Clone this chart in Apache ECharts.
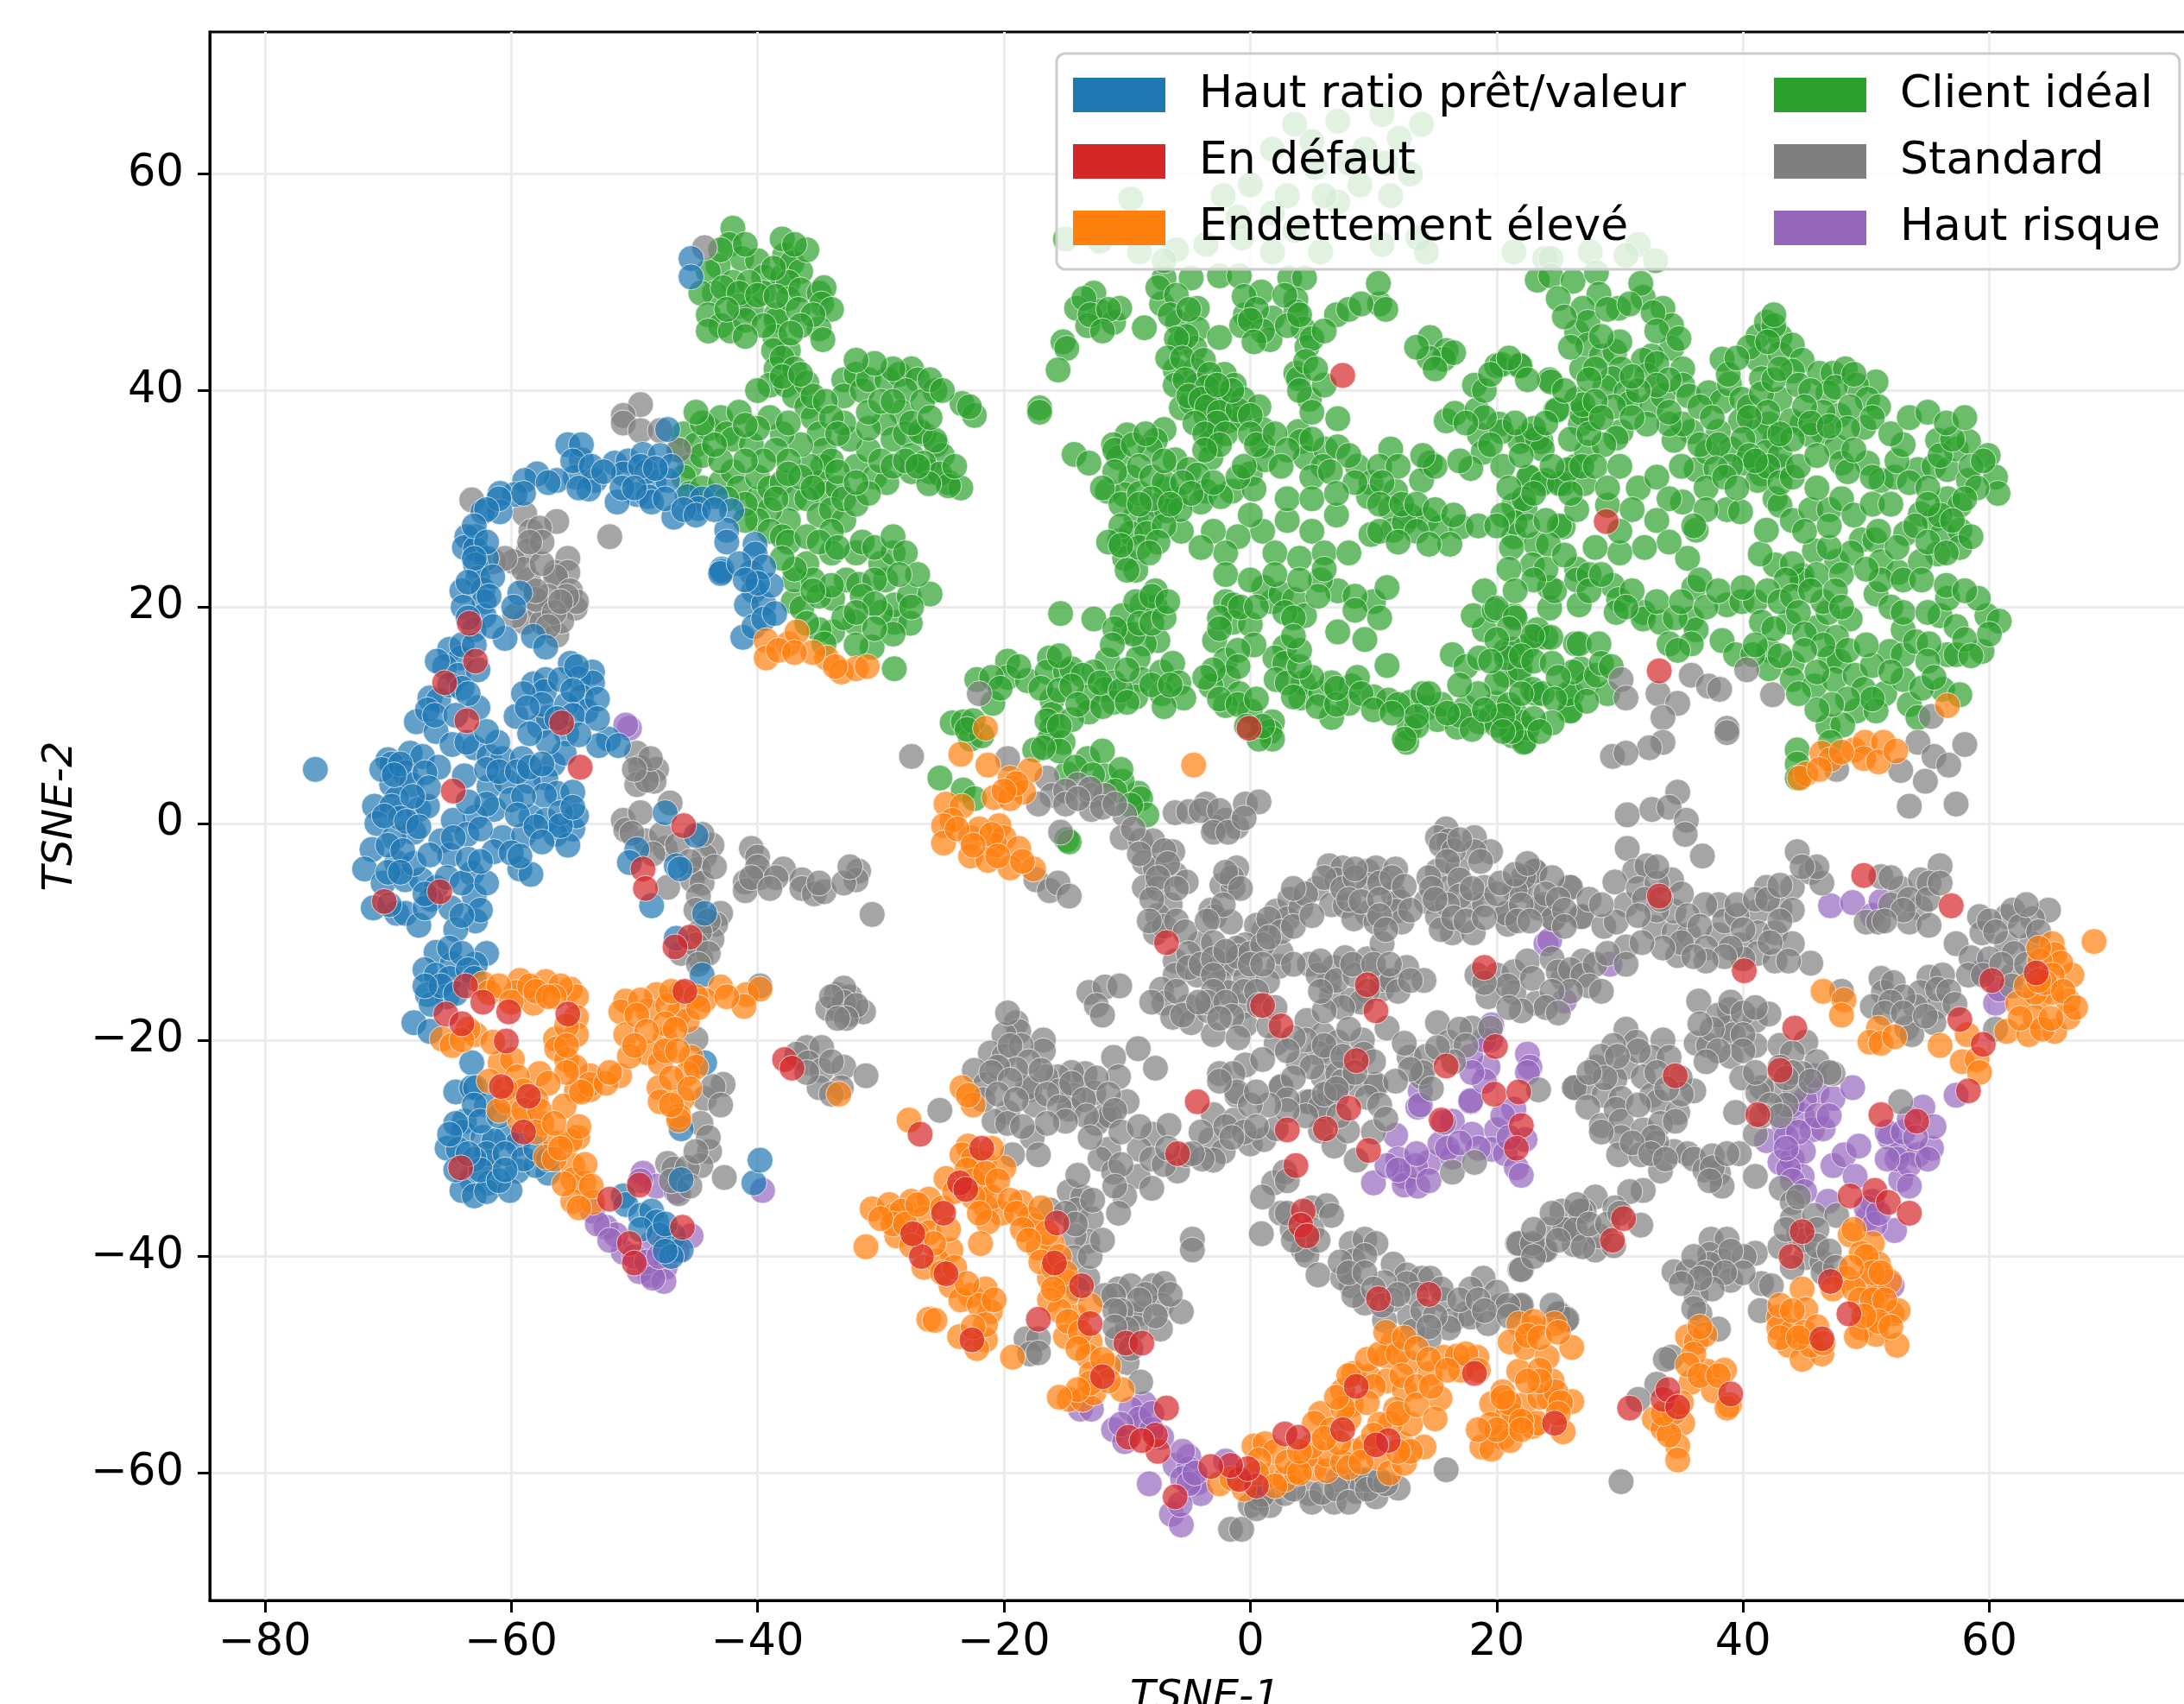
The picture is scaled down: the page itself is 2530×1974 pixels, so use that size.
<!DOCTYPE html>
<html><head><meta charset="utf-8">
<style>html,body{margin:0;padding:0;background:#fff}#c{width:2530px;height:1974px}</style>
<script src="https://cdn.jsdelivr.net/npm/echarts@6/dist/echarts.min.js"></script>
</head><body><div id="c"></div>
<script>
const legendLeft=["Haut ratio prêt/valeur","En défaut","Endettement élevé"];
const legendRight=["Client idéal","Standard","Haut risque"];
const xTicks=[-80,-60,-40,-20,0,20,40,60];
const yTicks=[-60,-40,-20,0,20,40,60];
const green=[-42,55,-42.3,53.5,-41.3,52.2,-43.2,51.5,-44,51,-40,52,-39.5,50.5,-38,50.5,-37.8,52.5,-38,54,-37.2,51.8,-36.5,51,-37.5,50,-42,50,-43.5,49,-44.6,49,-44,47,-42.8,49.5,-41.5,47.8,-40.5,47.5,-39.5,49,-38.5,47,-37.5,48.5,-36.5,49.3,-35,49,-34.6,49.5,-34.8,48,-34,47.5,-43,46,-44,45.5,-42.2,45.5,-41,46.5,-38.5,46.5,-38.6,45,-37.5,43.7,-38.7,43.7,-35,45.7,-34.7,44.7,
-38.5,42,-39,40.5,-40,40,-37.7,40.5,-37,39.5,-36,38.5,-35.5,37.5,-35,36,-34.6,34.5,-34.7,33,-35,31.5,-34.5,30.5,-33.5,31,-32,33,-31,34.5,-32.5,35.5,-33,37,-30.5,32,-29.5,31.5,-33,41,-32,41.5,-33,39.5,-31.5,40,-31,41,-29.5,41,-28.5,41.5,-27.5,42,-27,41,-28,40,-28.3,38,-29.7,37,-31,36.5,-29,35.5,-28,36,-27.5,34,-26.5,36,-25.5,35,-25,34,-26,32.5,-24.5,31.5,-23.5,31,-27.5,32.5,-46,36,-46.3,34.5,-45,35,-45.5,33,-46,32,-44.5,34,-44,36.5,-43,37.5,-42.5,36,-41.5,38,-42,35.5,-40.5,35,-45.5,30.5,-44.5,31,-43,31.5,-42,32.5,-41.5,31,-40,30,-40,32,-39,31,-38,31.5,-37,30,-36,30,-37.5,28,-35,28.5,-34,29,-39,29,-40,28,-41,29.5,-39,27,-38,26.5,-33,28,-34,27,-23.4,38.8,-22.4,37.7,-25.6,40,-26.6,39,-26.8,36.2,-25.6,35.4,-26.5,33.3,-25.2,32.3,-24.5,31.2,-26.1,31.4,
-17.1,38.4,-17.1,38,-12.7,49,-14.1,47.6,-12.2,47.3,-13.2,46,-11.1,46.3,-10.6,47.6,-8.6,45.8,-15.2,44.5,-14.9,43.9,-15.6,41.9,-7,50.4,-4.8,50.4,-7.2,48,-4.3,47.6,-5.9,46.3,-4.3,45.7,-5.7,44.4,-4.5,43.9,-2.5,44.9,-6.1,41.9,-4.5,41.9,-2.1,41.5,-6.1,40.5,-4.3,40.5,-1.3,40.5,-5.6,38.4,-4.8,38.9,-3.6,37.7,-2.9,39.2,-2,39.2,-.6,39.2,.7,38.5,-1.8,37.2,-.9,37.4,-3,36.2,-3.2,35.3,-3.2,33.8,-2.5,50.6,-.9,50.6,.9,49.1,-.4,47,1.8,46.7,-.7,46,1.6,44.7,3.2,50.4,4.4,50.4,3.7,48.4,3.7,47.3,4.3,45.7,4.6,44,3.7,41.6,3.9,41.1,4.8,39.2,7,47,7.1,37.4,10.5,48,10.4,49.9,14.6,44.9,15.9,43.7,15.7,42.9,14.5,43,
-10,35.9,-11.1,35,-7,36.4,-14.3,34.1,-13.1,33.3,-10.7,33.8,-9.7,32,-11.6,30.7,-10.2,30.4,-7.7,35.4,-8.1,34.6,-6.1,33.6,-5,32.7,-4.3,32.2,-3.6,30.7,-4,29.7,-6.8,30.9,-6.1,30,-7.5,29.4,-9.3,28.4,-8.2,27.8,-5.6,27,-6.8,28.9,-5.7,29,-10.6,26.1,-9.7,26.8,-10.2,24.5,-9.3,23.4,-8.4,26.8,-1.5,30.7,0,32.3,.3,30.9,-2.4,30.2,1,36.4,1,34.9,1.2,33.6,3.9,36.2,4.1,35.3,4.5,33.8,6.1,34.6,7.1,34.8,5.9,33,8.7,33,11.4,34.6,9.8,31.5,11.8,30.7,9.6,30.2,11.4,29.1,13,28.4,11.6,27.1,14.3,28.1,15.4,27.4,17.1,27.4,9.8,26.7,12.5,27.8,16.2,25.8,14.6,33.3,13.9,31.7,15.9,37.2,16.6,37.9,18.4,38.2,20.2,36.9,18.6,35.9,18.2,40.5,20,42.3,21.8,42.3,24.3,41,24.8,38.2,22.5,35.8,23.6,35.3,18.9,34.3,17.9,32.8,22.7,32,24,31.7,21.4,29.4,22.3,29.1,21.4,26.5,23.2,25.8,25.4,27.4,26.4,33,25.4,31.4,27.1,31.4,27.3,34.3,26.8,36.9,
-15,54,-9.7,57.7,-12.2,53.8,-9,52.8,-3.6,53.5,-.7,54.1,1.8,52.8,3.6,54.8,5.7,52.8,-2.2,58,0,59,1.8,62.3,3.6,64.6,7.1,64.9,10.7,65.5,13.9,64.6,12.1,63.3,9.3,62.3,5.3,60.6,8.9,59,11.4,58,7.1,57.4,1.8,56.4,10.7,53.5,13.6,54.1,14.3,52.8,21.4,52.8,23.9,52.2,24.4,52.2,27.6,52.8,31.5,53.5,32.9,52,30.5,52.5,5,63,8,61,11,61,13,60,6,58,3,58,-1,56,-6,53,-7,52,
23.3,50.2,24.4,50.6,26.2,50.1,28.1,50.9,28.3,48.9,27,47.6,29.9,47.6,31.9,48.6,31.7,49.9,33.5,47.6,34.2,46,26.5,45.4,27.4,46.3,27.4,44.2,28.5,43.2,29.6,43.6,34.2,43.9,32.6,43.2,31.9,42.8,26.9,42,30.1,42,35.1,42,32.2,41.4,29.4,41.1,28.8,40.3,30.5,39.8,30.8,38.8,32.6,38.7,33.5,39.5,35.1,40.5,35.6,39.5,37.2,39.8,38.3,39,38.9,40.6,39.9,39.2,38.3,42.9,41.2,45,41.9,46.3,43,45,41.2,42.9,41.5,41.1,43,43.4,44,44.2,44.8,42.8,44,41.8,46.2,41.6,47.3,41.6,48.3,42,50.8,40.8,49.2,40.5,46.9,39.8,50.1,39.2,51,38.5,47.8,37.7,49.8,36.6,43,39.2,42.1,36.9,44.8,36.9,43.9,37.2,46.5,36.2,45.5,35.9,42.6,35.6,41.2,36.2,39.8,37.2,38,36.2,39,34.6,35.8,36.2,34.4,35.4,35.1,36.9,34,36.9,32.2,36.9,30.1,36.2,29.7,35.6,28.7,35,27.8,37.4,26.9,37.9,26.5,39.2,24.9,38.2,36.2,32.7,37.1,34.3,40.1,33.3,41.5,32.3,43.1,33,41.9,34.3,43,34,42.6,30,43,29.4,41.2,31.7,47.6,34.8,48,33.3,50.1,33.3,51.2,31.7,52.3,32,54.2,32.7,55.5,33,56.6,32.7,55.8,35.4,57.3,34.6,58.3,35.3,59.9,34,60.5,32,60.7,30.5,58.3,31.7,56.6,30,57.6,29.4,54.4,28.6,55.5,28.1,53.2,26.8,56.2,26.8,57.6,27.1,57.6,25.5,55.8,24.9,49.6,26.2,50.7,26.2,51.2,24.2,52.6,23.2,54.4,24.2,47.6,24.2,45.8,25.2,44.8,22.9,42.6,23.9,41.4,24.9,35.1,29.7,36.2,27.1,35.5,24.5,38.7,29,39.8,28.8,41.9,27.1,20.4,42.4,21.9,42.3,24.4,40.8,21.9,35.3,23.3,35.6,23.7,34.6,20.4,36.2,22.6,32,23.7,31.4,25.1,31.4,25.8,32.7,26.9,33,22.2,30,25.1,27.5,21.5,27.8,21.2,25.5,24.2,25.8,22.9,23.9,26.5,23.5,29,29.4,
-37.1,20.5,-33.9,20.8,-32.1,18.6,-28.9,18.6,-33.9,17.7,-30.7,16.3,-32.8,22.5,-36.4,19.9,-35,17.9,-34.6,16.6,-31.8,22.1,-29.6,22.5,-28.9,20.2,-30,19.5,-28.9,14.3,-37,22.5,-36,24,-34,25,-32,25,-30,24,-29,25,-27.7,21,-26,21.2,-27.6,18.5,-15.4,19.4,-12.7,18.9,-10.2,17.7,-10.4,19.2,-8.8,20.2,-7.7,20,-7.7,21.5,-9.3,20.5,-7.5,16.9,-8.6,16.6,-10,23.4,
-19.7,15,-22.2,13.3,-19.7,13.5,-18.1,13.2,-16.3,15.3,-16.5,14,-15,14,-14.5,14.3,-11.6,15.1,-12.7,14,-13.6,13.7,-11.1,13,-9.1,15.3,-8.8,13.3,-7.2,14,-6.3,14.8,-5.8,13,-7.2,12,-9.3,11.7,-5.4,11.6,-11.8,12.4,-13.2,11.7,-11.1,11.2,-13.1,10.3,-16.1,11.4,-16.1,10.1,-16.1,8.8,-16.3,7.8,-17.5,6.8,-14.5,9.6,-15.2,7.5,-20.9,11.1,-24.2,9.3,-23.3,9.4,-22.7,7.8,-21.8,8.1,-13.2,6,-12,6.7,-11.8,4.4,-9.1,2.8,-8.9,2.3,-8.4,.8,-10.4,3.9,-14.9,4.6,-25.2,4.2,-23.3,3.1,-22.4,2.3,-14.9,-1.5,-14.7,-1.7,
-2,20.5,-1.4,20.2,-2.9,16.9,-1.4,18.6,0,18.4,-2,15.1,-1.8,13.5,-3.2,12.7,-.9,12,-2,10.9,0,10.4,1.8,9.4,1.6,8.5,1.8,7.8,.7,7.8,1.8,20.5,1.1,21.8,2.5,21.2,3.6,20.7,4.4,19.2,2.8,16.3,2,15.3,2.8,14.8,2.1,13.3,4.3,13,4.1,11.6,5.7,12,8.2,12.7,8,11.1,6.6,9.8,6.6,13,7.1,21.5,5.7,22.5,7.1,17.7,10,20.5,11.1,14.6,11.1,21.8,10,11.7,11.2,11.4,13,11.2,12.9,8.8,12.7,7.5,14.3,10.7,15.2,9.6,16.8,8.9,17.5,10.7,18.6,9.4,19.5,9.8,21.3,8.1,22.3,7.6,20,11.1,21.4,10.4,22.5,8.8,16.4,15.6,17.5,14.5,18.6,15.3,19,17.9,18.1,19.2,19.8,19.7,21.4,19.2,19,21.5,20.7,15.9,21.8,13.7,20.7,13.7,20,13,23.2,17.2,22.5,16.4,24,17.2,26.4,16.6,26.8,14.3,26.1,12,25.9,10.4,23.2,12,24.3,19.9,24.3,21.8,
24.7,21.5,26.7,20.2,26.5,22.5,23.3,17.9,24.4,17.2,21.3,16.1,26.7,16.6,28.3,16.6,29.4,22,29.9,20.7,29.7,19.5,31.9,19.5,31.9,18.9,33.3,18.6,36,21.8,35.8,18.9,36.2,17.9,34,16.6,35.8,16.6,38.7,20.2,39.9,20.5,41,20.5,38.3,16.9,39.4,15.6,41.5,18.6,43.7,18.6,46,18.1,48.7,18.9,46.9,19.5,44.8,22.5,46.5,20.5,47.6,17.2,42.1,16,44,14.8,44,13.3,42.1,14.3,40.8,15.6,47.1,15.3,47.8,15,45.8,12.7,47.4,13.3,49.1,13.7,49.8,12.4,51.5,12,53,13.3,51.9,15.9,50.5,14.6,53,15.6,53.5,11,49.2,10.4,50.8,10.4,46.9,9,48.1,9.1,47.1,7.5,44.4,6.8,44.4,5.5,44.4,4.2,54.2,9.8,56.2,12.4,57.6,11.9,56.6,15.6,57.3,15.6,59.4,15.9,56,19.2,57.3,18.2,59.8,19.2,60.8,18.7,59.1,20.8,56.6,20.8,53,17.9,54,16.8,50.8,21.2,51.2,22.5,53,22.5,55.1,16.6,20,19.9,21.5,19,22.9,17.3,21.9,14.3,20.8,15.3,22.9,12.4,23.7,12,26,10.4,25.8,12,21.9,9.4,22.2,7.5,21.2,8.5,20,9.1,27.4,13,29,12,26.2,14,28.1,13.7,34.7,16,
-43,53,-41,53.5,-40.7,50,-41.5,49,-42.5,47.5,-40,48.8,-38.5,48.7,-38.7,51.3,-36,53,-37,53.5,-36.7,47.5,-35.5,47,-39.5,46,-41,45,-36.5,46,-37.3,45.3,-38,43,-37,42,-38,41.3,-36,40.7,-35.5,39.5,-36.5,41.5,-34.5,39,-34,37.5,-33.5,36,-34,33.5,-33.5,32.5,-35.7,33,-36.5,35,-38,36,-39,37.5,-37.5,37,-38.5,34.5,-37.5,33.5,-36.5,32,-39.5,33.5,-41,33.5,-43,33.5,-43.5,35,-44.5,37,-45,38,-40,36.5,-41,36.8,-42.5,30,-41,28,-38.5,30,-37.5,32.3,-35.5,31,-33,30,-32,29.5,-31,30.5,-32,31.5,-30,33.5,-29,33,-28,33.5,-27,33,-31,38,-30,39,-29,39,-29,42,-30.5,42.5,-32,42.8,-26,41,-25,40,-27.5,37,-26,37.5,-24,33,-22.8,38.5,-37.5,26,-36,26.5,-35,26,-33.5,25.5,-31.5,26,-30.5,25.5,-29,26.5,-28,25,-27,23,-28.5,23,-30.5,22.5,-35.5,22.5,-37,23.5,-38,24.5,-35,21,-34,22,-31.5,21,-30.5,20.3,-27.5,20,-29,17.5,-32,16.5,-33,19,-36,18.5,-35.5,21.5,-32,19.5,-30.5,18,
-13.5,48.5,-13,47,-11.5,47.5,-12,45.5,-7.5,49.5,-6,48.8,-6.5,47,-5,47.5,-5.2,45,-6,44.8,-6.7,43,-5.5,43,-3.8,42.8,-5.3,41,-3.3,41.5,-3.5,40.3,-5,39.5,-4,39.2,-3.5,38.5,-2.5,38,-1,38.2,0,37.7,-2.7,37,-4.5,37,-3.7,36,-2,36,-2.5,35,0,36,-3.7,34.5,-1.5,40,-2.7,40.5,-.5,48.7,.5,47.5,1,45.5,0,46.5,.3,44.5,3,46,2.8,48.8,4,47,5,44.8,4.5,42.7,4,40,5,38,6,40.5,5.3,42,6,45.5,8,47.5,9,48,11,47.5,13.5,44,16.5,43.5,15,42,-11,34.5,-9.5,35,-8.5,36,-11,32.5,-12,31,-10.5,29.5,-9,30.5,-9,33,-8,32,-7,31.5,-5.5,31.5,-7,33.5,-8,30,-4.8,30.5,-3,31.5,-7,27.5,-9,29.5,-10.5,27.5,-11.5,26,-9,25.5,-10.5,25.7,-7.5,26,-6.5,29.5,-8.2,25,-1,32,-.5,33,.5,35,2,36,3,34.5,2.5,33,5,35.5,5,32,8,34,6.5,32.5,8.5,31.5,10.5,33,12,33,10.7,31.5,10.5,29.5,12.3,29.5,13.5,27,10.5,27,12,26,14.5,25.8,13.5,29.5,15,29,16.5,28.5,18.5,27.5,15,33,14,34,19.5,35,20.5,33,17,33.5,19,37.5,17.5,37,19,40,19.5,41.5,21,43,22.5,41,23,36.5,21.5,37,22,34,21,31,23,30.5,20.5,28.5,20,27.5,22.5,27.5,24,28,26.5,29,24.5,33,26,30.5,28,33,26,35.5,27,38.7,25.5,40,24,37,
25,48.5,25.5,46.8,26,44,28,42,27.5,41,30,44.5,28.5,45,29,47.5,30.8,48,32.7,47.2,33,45.5,34.8,44.8,33,42.5,34,41,33,40.5,31.5,40,31,41.3,29.5,38.5,28,39,27.5,36,28.5,37.5,31,37.5,34,38,36.5,38.5,37.5,37.5,36.5,35,38,35,40.5,38.5,41.5,39.7,42.5,41,43,42,44.5,40.5,45.5,40,47.5,40.3,48.7,38.5,49,41.5,50.5,37.5,46.5,38,45,38.5,45.5,37,48.5,36.5,47,36.7,44,35.5,43,36,42,38,40.5,37.5,40,35.5,40.5,34,42,33,41,33.5,43,31.5,44,32,39,33,37.8,32.8,42.5,46,40.5,44,42,44.5,42.5,47,38.8,41.5,39.5,43,48.5,32.5,49,34.5,50.5,32,52.5,33.5,53.5,31.5,55,31,56,34,57,35.5,58.5,33,59,31,59.5,33.5,58,30,56,28.5,57,28,55,29.5,54,27.5,55,26,56.5,25,58.5,26.5,52.5,25.5,51,27,48.8,25,47,25.5,44,24,46,23,48,23,50,23.5,43.5,22.5,21,23.5,24,23.5,25.5,24.8,27.5,23,23,22.5,21.5,21.5,
27.5,21.5,28.5,23,31,21.5,30.5,20,33,20.5,34.5,19,35,20.5,37,20,36.5,22.5,38,21.5,40,21.8,42,21.5,43,20.5,44,21,45.5,21.5,47.5,21.5,48,20,44.5,19.5,42.5,18,45,17.5,46.5,16.5,45,16,43,15.5,41,16.5,48.5,16,50,16.5,52,20,53,19.5,55,19.5,54.5,22.5,56.5,22,58,21.5,58,17,58.5,15.5,60,17.5,55,15,52,14,50.5,11.5,48.5,11.5,47.2,11,46,14,46,10.5,44.5,12,54.5,12.5,55.5,13.5,21,18,20,17,19.5,15,22,15.5,23,15,24.5,14.8,25,13.5,24.7,11.5,27.3,11.3,28.5,14.8,29.3,14.5,24.5,9.3,23,9.7,23.5,8.5,21,11,22,12,20.5,10,18.5,12,17,12.8,15.5,11,14,12,17,10,18,8.7,13.5,9,
-21,13.5,-20.3,12.5,-18.8,14.5,-15.5,15.5,-17,12.5,-15.5,12.3,-14.5,12.7,-14,11,-12,10.8,-12.2,13,-10.5,12.3,-10,14.2,-10,11.2,-8,12.8,-7,10.8,-6.5,12.8,-16.5,9.5,-15.5,9,-15.5,6.7,-16.8,7,-14.2,5.2,-12.8,4.5,-10.5,5,-11,3,-9.7,1.7,-22.5,9.5,-23,8.7,-9.5,17.5,-9,18.5,-11,18,-11.2,16.5,-8,18.5,-7,19,-8,21,-6.7,20.5,-2.5,19,-2.5,18,-.8,20,.5,20,.3,16.5,-1,16,-1,14.5,-3,14.2,-3.7,13.5,-2.5,11.5,-1,11,1,9,.5,11.5,-.3,9,2.8,19.5,3.5,19,3,13,3.5,11.7,5,13.5,5.5,10.8,7,11,7,12.5,8.7,13.5,9,12,10,10.5,4,14.5,4,16,3.5,17.3,5.5,21,8.5,21,8.5,19.7,10.5,19,9.3,17,12,11,13.5,9.9,11.5,10.2,14.5,12,16,10.2,19,10.5,20.5,8.5,12.5,7.8,
30,33,31.5,31,33,32,34,30,29,31,31,29,33,28,35,33,37,31,38.5,32,39.5,31,37,29,34,26,32,25.5,30,25,28,25.5,30,27,36,27.5,44,28,45.5,29,47,29,48,30,46,31,44.5,33,46,34,45,27,47,27.5,49,28.5,50.5,29.5,52,29.5,53,35,52,36,53.5,37.5,55,38,56.5,37,58,37.5,1,27,3,28,5,27,7,28.5,3,30,5,30,7,30.5,0,28.5,-1,26.5,2,25,4,24.5,6,25,8,25,-3,27,-2,25,-4,25.5,-2,23,0,22.5,2,23,4,22.5,6,23.5];
const purple=[24,-11.1,24.3,-10.8,29.2,-13,47.1,-7.6,48.9,-7.3,50.5,-8.5,51.2,-7.2,59.4,-13.7,60.5,-16.6,60.8,-15.3,57.3,-25.1,25.5,-16.4,19.6,-18.6,19.3,-22.5,22.5,-21.3,22.7,-22.5,17.9,-21.5,17.9,-25.7,13.8,-24.7,13.6,-26.2,13.8,-26,11.8,-28.8,12,-31,10,-33.2,12.5,-32.6,12.5,-33.4,13.6,-33.5,14.5,-31.3,15.4,-29.6,16.4,-27.5,15.7,-27.6,18,-28.7,20,-28.3,21.4,-26.4,19.6,-30.1,20.7,-30.5,21.6,-31.8,22.3,-29.2,17.9,-25.6,19,-23.8,22.5,-23,11.1,-31.6,13.4,-31.6,16.4,-30.8,
-8.6,-53.6,-9.7,-54.1,-8.8,-55.4,-11.1,-56,-10.2,-57.1,-7.2,-56.7,-13.8,-54.1,-12.9,-54.1,-6.1,-59.3,-5,-58.5,-5,-59.6,-8.2,-61,-4.3,-60.9,-4,-61.9,-6.4,-63.8,-5.6,-64.8,-5.7,-62.9,-2,-58.9,
41.9,-29.3,43.3,-27.7,44.8,-27,45.6,-28.3,46.5,-28.2,46,-24.8,47.3,-25.4,48.9,-24.4,45.8,-23.3,43,-31.3,44,-31,44.9,-30.3,44.8,-32.6,43.7,-31.9,47.3,-31.6,48.2,-30.6,49.4,-29.8,51.9,-29,52.8,-30.3,54.2,-30.6,55.3,-30,54.6,-26.2,55.5,-28,52.8,-32.9,49.1,-32.6,46.9,-34.9,50.1,-36.5,52.3,-37.6,50.5,-34.9,51.7,-28.5,52.1,-42.7,
-50.4,8.8,-50.7,9.1,-49.3,-32.3,-48.2,-33.5,-46.6,-34,-39.6,-33.9,-53.4,-35.8,-52.3,-37.3,-50.9,-39.6,-48.6,-38.8,-45.4,-38.1,-48.7,-41.7,-47.5,-41,-47.6,-42.3,-49.6,-41.4,-51.5,-38,-47.5,-39,
19.5,-20,19,-20,18,-23,16,-30,14.5,-33,12,-32,13.5,-30.5,18.5,-30,20.5,-27,21,-29,22,-32.5,17,-29.5,-9,-55,-8,-56,-8,-54.5,-10.5,-55.5,-5.5,-60.5,-5,-61,-4.5,-60,-5.5,-58,43.5,-29,44.5,-28.5,44,-26,45,-25.5,46,-27,47,-27,44,-33,45,-34,43.5,-30,53,-28.5,53.5,-27.3,52.5,-31,53.5,-31.5,55,-31,51.7,-31,54,-29,53.5,-33.5,50,-35.5,50.7,-37,51,-36,-50,-40,-49,-40.5,-48.5,-42,-48,-40,-49.5,-33,-53,-37,-52,-38.5,-46.5,-39.5];
const gray=[-44.3,53.2,-63.2,29.9,-49.5,38.7,-50.9,37.7,-50.9,37,-49.5,36.3,-47.9,36.3,-46.4,34.5,-58.9,28.6,-56.3,27.9,-58.4,27,-57.7,27.3,-52,26.5,-55.4,24.5,-58.6,25.2,-59.8,24.2,-61.4,24.2,-56.4,23.2,-55.4,23.2,-56.4,22.8,-55.2,21.5,-57.7,19.9,-54.8,19.9,-58.6,22.5,-58.9,18.6,-57.5,18.6,-56.3,17.4,-59.7,19.2,-55.9,18.7,-54.7,20.5,
-49.8,6.5,-48.2,5,-49.5,5.2,-49.8,3.6,-48.4,3.9,-50.9,.3,-50.7,-.6,-47.1,1.9,-49.1,-1.6,-47.5,-2.3,-43.7,-2,-44.3,-3,-44.8,-4.2,-45.3,-5.2,-44.5,-5.5,-47.3,-5.9,-44.8,-6.7,-43,-8.3,-43.4,-9.3,-43.7,-10.7,-44.6,-12.5,-46.2,-12,-45,-19.9,-42.8,-24.1,-44.3,-25.4,-40.5,-2.3,-40,-3.1,-37.9,-4.2,-41,-5.4,-39.8,-5,-41,-6.2,-36.4,-5.2,-36.4,-6,-35.4,-6.5,-34.6,-6.3,-31.8,-4.4,-32,-5.2,-30.7,-8.4,-39.8,-15,-33.6,-15.8,-32.5,-16,-34.3,-17.1,-33.4,-17.2,-32.5,-17.6,-31.4,-17.4,-36,-20.7,-34.8,-20.7,-36.8,-21.3,-35.9,-22.1,-34.8,-22.8,-33,-22.5,-31.2,-23.3,-35,-24.4,-33.2,-24.4,-43.6,-24.3,-44.6,-27.7,-43.9,-30.3,-44.6,-31.6,-47.3,-31.4,-46.8,-31.9,-45.7,-31.8,-42.7,-32.7,-46.4,-34.2,
-27.5,6.2,-19.7,6,-22,12,-16.5,4.2,-16.1,2.6,-17.2,1.8,-14,3.6,-12.9,2.6,-11.8,2.6,-12.9,1.3,-10.2,.8,-10.4,-1.3,-8.9,-1.6,-7.9,-1.6,-6.3,-2.6,-8.6,-3.6,-7.7,-4.2,-6.1,-4.7,-5.2,-5.4,-8.6,-5.9,-7.5,-6,-6.5,-7.5,-7.5,-8.5,-7.7,-10.1,-6.1,1,-5,1.1,-3.6,1.8,-2,.3,-2.9,-.3,-1.1,-.3,-.4,1.8,.7,2,-15.4,-.8,-17.4,-5.2,-16.3,-6.2,-15.6,-5.5,-14.7,-6.7,-1.1,-4.1,-2.3,-5.7,-1.4,-5.9,-3.2,-8,-2.9,-8.6,-1.6,-9.1,1.1,-9.9,.5,-9.4,2.1,-8.1,3.2,-7,3,-8.8,4.1,-7.8,5.4,-6,6.4,-3.9,7.5,-4.1,7,-5.2,6.6,-7.5,7.7,-7.6,9.5,-4.4,10.2,-4.1,11.8,-4.2,9.6,-5.7,9.5,-8.3,8.4,-8.8,10.2,-9.1,11.6,-6.5,12.1,-7.2,11.8,-8.1,12.3,-9.1,15.9,-.5,15.2,-1.3,18.2,-1.3,19.5,-2.6,18.2,-2.6,16.1,-1.6,15.2,-4.4,16.8,-4.2,15.9,-6,14.3,-7.2,15.2,-8.6,16.4,-10.1,17.9,-7.5,19,-5.9,19,-7.5,18.1,-10.1,15.5,-9.8,21.8,-5.9,23.1,-4.4,22.5,-6.2,20.9,-8.3,20.9,-9.3,23.4,-7.8,24.6,-8.8,25.9,-5.9,26.8,-8.6,
-4.1,-11.1,-6.1,-12.7,-6.1,-14,-4.3,-14,-2.3,-13,-1.4,-13,-.4,-11.2,-1.1,-11.5,2.3,-13.2,2.5,-11.9,-2.5,-14.6,-.4,-14.3,-1.8,-15.6,-.6,-16.9,-.4,-18.6,-3,-19.5,2.1,-20.3,1.4,-14.6,-7.2,-15.3,-7,-16.6,-5,-16.9,-6.3,-17.9,-4.8,-18.4,-3.4,-17.3,-13.1,-15.6,-11.8,-15.1,-10.6,-15,-12.5,-16.8,-12,-17.7,-19,-18.4,-18.8,-19.2,-20,-19.5,-16.8,-20,-21.1,-21.2,-20,-21.5,-16.8,-21,-18.6,-20.5,-22.4,-22.8,-21.5,-24.1,-9.1,-20.8,-7.7,-22.6,-11.1,-21.6,-13.4,-23.1,-14.5,-23,-15.6,-23.4,-16.6,-23.4,-17.9,-24.6,-10.7,-23.4,-12.7,-24.9,-14.3,-25.1,-10,-25.7,-17.5,-26,-19.7,-26.7,-11.8,-27,-25.2,-26.5,
4.8,-13,6.8,-13.3,7.7,-12.4,9.5,-12.5,10.7,-11.1,12.7,-13.3,14.1,-14.5,6.6,-16,8.2,-16.3,6.4,-14.6,10.7,-15.3,10.7,-14.4,11.1,-18.9,4.6,-18.2,5.9,-19.5,7.1,-20.2,9.1,-20,5.5,-21.2,3.9,-22.1,6.6,-21.6,5.9,-23.4,7.1,-23.1,10.2,-24.3,2.5,-24.4,8.6,-24.1,4.6,-25.7,5.9,-26.4,-.4,-22.3,-2.5,-23.1,-1.4,-23.1,1,-21.8,-1.1,-25.1,15.2,-18.4,16.1,-20.2,18,-18.9,19.5,-18.9,12.9,-21.6,14.3,-21.5,13.9,-23.4,23.4,-24.6,26.4,-24.4,18.4,-14,20,-14,21.4,-13.7,22.5,-12.7,23.2,-16.6,21.4,-15.6,22.9,-14.3,19.3,-16,20.9,-15,25.4,-14.3,27,-12.7,
30.1,13.3,30.5,11.6,33.1,12,34.7,11.1,33.5,9.8,35.8,13.7,37.2,12.7,38.1,12.4,40.3,14.2,42.4,11.9,38.7,8.8,38.7,8.4,33.5,7.5,32.4,7,29.4,6.2,30.5,6.5,54.2,7.5,55.5,6.2,58,7.3,56.7,5.4,52.8,4.9,54.8,3.9,53.5,1.6,57.3,1.8,55.3,9.9,47.6,5,34.7,2.9,30.6,.8,32.6,1.3,34,1.5,35.4,.3,35.3,-1,36.7,-3,
30.6,-2.3,31.2,-4.4,32.2,-3.9,29.6,-5.4,34.2,-5.2,26,-5.9,23.1,-4.4,22.2,-4.9,21.5,-6.2,20.8,-8.3,23.7,-7.5,24.6,-8.8,26.9,-8.6,28.7,-9.5,30.5,-7.5,29.7,-9.1,30.5,-11.4,32.8,-9.6,34.4,-10.1,34.4,-8.1,34.7,-12.2,35.6,-10.3,38,-7.5,36.9,-7.5,38,-10.3,39.8,-11.2,41.2,-8.1,43,-7.8,41.9,-5.9,44,-5.9,45.5,-4.5,44.4,-2.6,46.4,-5.5,41.2,-10.1,42.6,-10.1,44,-11.1,41.2,-12,42.6,-12.7,45.5,-12.9,43.7,-12.7,51.2,-4.9,52.8,-6,54.4,-5.2,56,-3.9,55.1,-5.5,54.4,-7.8,50,-9.1,51,-9.1,53.5,-9.1,55.1,-9.4,59.2,-8.6,61.4,-8.6,61.9,-8,64.8,-8,63.5,-8.8,57.3,-11.1,58.5,-12.4,59.4,-10.1,61.4,-11.1,63.4,-11.1,61.9,-14,58.3,-14,51.2,-14.3,51.4,-15.6,50.5,-16.9,55.1,-14.2,56.2,-14,54.4,-15.6,55.8,-16.9,54,-16.9,55.5,-18.4,53.3,-18.9,48,-15.5,53.7,-19.5,60.5,-19,36.4,-16.4,38.9,-17.2,38.7,-18.9,38,-17.7,41,-18.2,42.1,-17.6,41,-20.5,39.2,-19.5,39,-21.5,36.2,-20.3,37.2,-20.5,30.5,-19,31.3,-20.2,33.5,-20,32.6,-21.6,34,-21.6,28.1,-22.5,30.5,-22.5,31.9,-23.4,29.6,-23.6,27.2,-24.4,26.3,-24.4,28.7,-25.1,30.1,-25.4,32.6,-25.1,36,-24.7,34.9,-23.5,43,-20.5,45.1,-20.2,44,-21.2,46,-22,44.8,-23.1,42.6,-24.7,41.5,-24.4,39.9,-23.5,39.4,-26.7,44.2,-24.7,47.3,-23.1,52.8,-25.7,27.4,-26.2,28.5,-27.9,29.7,-26.4,30.1,-27.5,30.1,-29,29.9,-30.6,31.9,-28.3,31.7,-30.6,33.3,-32.1,33.1,-25.7,34.7,-26.7,33.3,-27.7,34.4,-30.3,35.5,-30.5,36,-31,36.9,-32,38,-32.3,38.3,-33.5,39.7,-30.5,41,-32.6,41.2,-24.9,41,-28.7,31.9,-33.9,30.8,-34,28,-34.5,27.1,-35.8,25.3,-35.8,24,-39.4,22.8,-39,21.7,-38.8,21.9,-41.2,24.2,-37.5,25.8,-37.5,26.3,-38.9,28,-39.4,28.3,-38.1,31.7,-37.1,29.6,-35.5,43.1,-33.7,44,-35,44,-36.5,45.8,-36.2,47.6,-36.2,43,-39.1,45.1,-40.1,46.4,-40.5,44,-41,46.5,-41.5,37.4,-38.4,38.7,-38.4,37.3,-39.8,38.3,-40.4,41,-39.7,40.1,-40,34.4,-41.4,35.5,-41.4,37.3,-40.7,39,-42.2,41.5,-42.5,42.3,-42.7,36.2,-43.6,36.5,-45.3,41.4,-45,38,-46.7,34.2,-49.3,33.7,-49.5,33,-51.8,31.5,-53.2,25.1,-45.3,25.6,-45.9,21.9,-44.6,20.3,-44.6,30.1,-60.8,
-20.8,-27.5,-19.7,-27.7,-17.7,-29,-19.3,-30.6,-17.2,-30.6,-18.1,-24.4,-14.7,-26.4,-12.5,-27.7,-11.4,-27,-7.9,-28.7,-6.6,-27.9,-11.5,-30.1,-9,-30.1,-12.2,-31,-11.1,-32.2,-9.1,-32.6,-10.2,-34.4,-8,-33.7,-10.7,-36,-14.7,-34,-13.6,-34.5,-16.3,-35.7,-14.1,-35.7,-12.9,-36.5,-13.2,-38.6,-14.3,-38.1,-14.3,-40.1,-13.2,-42,-3.2,-29.2,-3,-26.9,-1.3,-27.4,-2.2,-30.3,0,-29.6,1.1,-29.2,2.1,-28.2,-5.9,-32.1,-3,-31.1,-5.2,-30.6,-3.9,-31,-1.1,-24.8,-2.5,-23.8,2.5,-24.3,4.8,-25.7,5.7,-26.1,6.4,-24.8,7.5,-23.8,10.2,-24.1,5.7,-28.4,6.8,-29.8,7.9,-28.4,10,-28.5,1.9,-33.2,2.8,-32.2,8.6,-31.1,16.4,-32.2,18.2,-31.3,2.5,-36,5,-35.5,6.2,-35.3,6.6,-36.2,.9,-37.9,3.4,-37.5,4.3,-39.4,4.6,-39.9,5.5,-41.7,-4.7,-38.4,-4.7,-39.4,8.2,-38.8,9.3,-38.4,10.2,-38.8,8.4,-40.4,9.3,-39.9,11.6,-40.7,8.2,-42.7,7.5,-42,9.3,-44.3,12.7,-41.7,13.9,-42,14.6,-42,12.7,-42.5,10.9,-42.4,8.4,-43.6,12.9,-45.6,10.9,-45.9,15.7,-44,18.9,-42,17.9,-43,20,-43.3,17.5,-45.3,16.4,-45.9,17.9,-45.6,16.1,-46.6,19.3,-46.2,14.5,-47.6,13.2,-46.9,22,-44.5,20.9,-44.5,25,-45.3,25.7,-45.8,15.9,-59.7,21.8,-38.8,23.9,-39.4,25.5,-37.5,22,-41.2,22.9,-38.8,26.8,-35.8,26.4,-37.5,27,-39.1,
-10.7,-43,-9.7,-42.7,-11.8,-43.6,-7.9,-42.7,-7,-42.5,-9.7,-45.3,-11.1,-43.6,-7.2,-44.5,-5.6,-45.1,-7.3,-46.7,-10.8,-47.6,-9,-45.3,-9.3,-46.6,-18.2,-47.6,-17.2,-47.6,-17.9,-49,-17.2,-48.9,-10,-49.8,-8.9,-51.6,0,-63,.7,-62.4,1.6,-63,2.8,-61.9,4.8,-61.9,5,-62.7,6.8,-62.7,8.6,-61.7,10.2,-62.2,12,-61.4,8.8,-60.6,9.5,-60.6,7.1,-60.6,-1.6,-65.2,-.7,-65.2,
-55.5,21,-57,21,-58,20.7,-58,21.5,-56.5,19.5,-56,20.5,-57,18.2,-59,23.5,-57.5,24,-57.5,26,-58.5,26,-60.5,24.5,-49,4,-48.7,6,-50,5,-49.5,1,-50.2,-.9,-47.8,-1,-48.5,-2.8,-46.5,-2,-44.5,-1,-45.5,-3.5,-43.5,-4,-45,-8,-44,-9,-44.7,-10,-45,-11.2,-44,-12,-44.8,-13,-40,-4,-40.5,-5,-38.5,-5,-39,-6,-35,-5.5,-33,-5.5,-32.5,-4,-33,-15.2,-33,-16.5,-34,-16,-32,-16.8,-32.8,-18,-33.5,-18,-34,-22,-36,-23,-34,-25,-43,-26,-44,-29,-45,-30.3,-47,-33,-45.5,-33.5,
-13,3.2,-15,3,-15,1.8,-14,2.3,-12,1.5,-11,1.8,-9.5,-.5,-9,-2.8,-7,-2.5,-6.7,-3.7,-7.5,-5,-6,-6,-8,-7,-7,-9.5,-8.2,-9,-6,-9,-5.3,-10,-4,1.2,-2.5,1.2,-3,-.8,-1.8,-.8,-.5,.5,-1.5,-5,-2,-4.5,-.8,-6,-2.2,-7.5,-3.5,-9,1.5,-8.8,2.5,-10,3.5,-9.5,4.5,-6.5,5,-8.5,3.5,-6,6,-5,7.5,-6,8.5,-5,8.5,-4.2,8,-7,9,-7.2,10.5,-5.5,10.5,-7,10.5,-8.5,11,-9.8,11.5,-5,12.5,-5.8,13,-8,15.5,-2,16.5,-2.5,17,-1.5,18.7,-3.5,16,-3.5,14.5,-5,14.7,-6,17,-5.2,17,-6.7,18,-6,16,-7.5,16.5,-8.7,17.5,-9,15,-7,19,-8.7,20,-6.5,20.3,-5.5,21.5,-4.7,22.5,-3.7,24.5,-5,24,-6.5,25,-7,25.5,-8,22,-7.5,21.7,-9,22.7,-9,
-3,-11,-5,-12,-5,-13.3,-4,-13,-3,-12.5,-3,-14,-1,-12.3,0,-12,1,-11.2,1.5,-10.5,-2,-11.8,0,-13,1,-13,-.5,-15.5,-3,-15.5,-3.5,-16.5,-2,-16.5,-1.5,-17.8,-2.5,-18,-1,-19.8,.5,-15.5,.7,-16.8,1.5,-18.7,2,-17,-6,-15.5,-8,-16.5,-5.5,-17.7,-4.2,-16.5,-19.7,-17.5,-19.5,-20.5,-18,-22,-19,-22.7,-20.5,-22.5,-21,-23,-19.5,-23.7,-21.7,-25.5,-20.5,-25,-19,-25.5,-17,-22.8,-15.5,-24.7,-16.5,-25,-14.5,-24,-13.5,-25.5,-15.5,-26.2,-12.5,-23.5,-11.5,-25,-11,-26.5,-10.5,-28.5,-13.3,-27,-15,-27.5,-16.5,-27.7,-18.5,-28,-9,-28,-8,-31,-10.5,-31.5,-11,-33.5,-7,-31.5,-6.7,-30,-13,-29,-14,-32.5,-15,-36,-14.2,-37,-12.8,-34.8,-13,-40,-12,-38.5,-14,-43,
3.5,-13,5.5,-14,5.7,-12.7,7,-14.5,8.5,-14,8.3,-13,10,-13,9.5,-15.5,9,-16.5,7.5,-17,6,-17.3,5.7,-15.5,11.5,-14.5,12,-15.5,11.3,-13,13,-14.5,4.5,-20,3.5,-19.8,3,-21,5,-22.5,6,-20.5,7.5,-21.5,8,-19,9.2,-21.3,10,-22,7,-25.2,6,-25,3.5,-23.5,3,-25.5,8.5,-23,9.5,-25.3,10.5,-26,11,-27.3,7.2,-27,4.5,-27,3,-26.5,1.5,-26,0,-26,.5,-24.8,17,-19,17.5,-20.5,16.5,-22,15.2,-20.7,14,-23,13,-22.7,12.5,-20.3,14.7,-24.5,11.8,-23.8,24.5,-12.5,25,-13.7,26,-13.5,27,-14,28,-13,29,-12,30.5,-13,27.5,-15,28.5,-15.5,26,-15.5,24.5,-15.5,24,-17,25,-17.5,22,-17.3,21,-17,19,-14.7,
31.5,-6,33,-5.5,33,-4,35,-6.5,32,-7,33,-8,35.5,-8.5,36.5,-9.5,35,-11,37,-11.5,33.5,-11.5,31.8,-11,38.5,-9,39.5,-8.5,40,-9.8,39.5,-7.5,41,-7,42,-7,44,-8,43,-9,42.2,-11,40,-12.5,39,-11.5,38.5,-12.3,37,-12.7,36,-12.3,31.5,-8.5,27.5,-7,28.5,-7.5,25.5,-9.5,33.3,-7,46,-4,44.8,-4,43,-5.7,52,-7.5,53.5,-7,55,-7,56,-5.5,53,-8,52,-5,51.5,-9,47,-23,60,-9,62.5,-9.5,63,-7.5,62,-12,60,-12.5,59.5,-14,61,-13,60.5,-10,61.8,-15,63,-13,64,-10,52.2,-14.7,53,-16,52,-16.5,51.5,-17.5,53,-17.5,55.8,-15.3,56.7,-15.5,57.2,-16.7,54.8,-17.8,39,-16.5,40,-17.5,41,-17,37.5,-19,36.5,-18.5,40,-19.5,40,-21,38,-21,37,-22,31.5,-21,29.5,-20.5,28.5,-21.5,29.8,-21.5,33,-23,35,-25,33.8,-24.5,34.5,-27.5,33,-29.5,32.7,-29,31.5,-26,28.8,-23.5,27.5,-23,28.5,-28.5,31,-29.5,32.5,-30.5,33.7,-31,37.5,-30.7,37.5,-31.8,38.7,-30.5,37.3,-33,41,-23,43,-22.5,44,-23,45.5,-23.8,43.5,-26,42.2,-26,41.5,-27,43,-27,43.5,-23.5,
36,-40,37,-41.5,39,-39.5,40,-41.5,38.5,-41.5,37.5,-43,36.5,-42,35,-42.5,36,-44.8,26.5,-35.2,27.5,-37,25,-38.5,24.5,-36,23,-37.5,23,-40,29,-37,29.5,-39,30,-36,44.5,-38,45,-38.5,46,-37.5,46,-39,47,-39.5,47.5,-41,44.5,-34.5,43.5,-37.5,-4,-28.5,-4.7,-30.5,-2,-28,-.5,-28.5,.5,-28,-1.5,-29,3,-33,1,-34.5,5,-37.5,5.5,-38.5,3.5,-38.5,3,-36,7,-24.5,7.3,-40.5,8,-41.5,9.3,-41.5,10,-43,11.5,-44,10.7,-44.5,13.5,-43.5,12,-43.5,14,-45,15,-45.5,15.5,-43,17,-44,18.5,-44,19,-45,14.5,-46.5,21,-45.5,24.5,-44.5,-8.5,-43.5,-9,-44,-10.5,-45,-10,-46.7,-7.7,-45.5,-9.7,-48.5,-11,-45,-6.5,-43.5,-11,-46.5,1,-62,3.5,-61.5,5.8,-61.8,7,-61.5,8,-62.7,9.5,-61.5,11,-61,10.5,-60.7,.5,-63.3];
const blue=[-45.4,52.2,-45.4,50.5,-55.4,35,-54.3,33.6,-54.8,32,-53.2,31.7,-53.7,30.9,-56.3,31.7,-57.9,32.3,-58.9,31.7,-59.7,30.4,-60.9,30.5,-60.9,28.8,-62.3,28.8,-51.6,33.3,-50.5,33.5,-49.3,34.1,-47.9,34,-47.3,36.4,-50.9,32.3,-48.4,31.5,-47.3,31.7,-49.8,30.4,-48.9,30.2,-51.4,29.7,-48.6,29.7,-45.7,30.2,-44.5,30,-43.4,30.2,-44.8,29.1,-46.8,28.3,-42.1,28.9,-42.5,27.1,-40.2,25.8,-40.2,24.9,-42.9,23.5,-42.9,23.3,-40.5,23.2,-62.9,26.5,-63.6,26.5,-63.8,25.5,-62.9,25.4,-62,24.5,-62.9,23.9,-62.7,22.7,-64,21.5,-62.3,21.6,-62.2,20.5,-63.9,20,-62.2,19.2,-63,17.9,-60.5,17.1,-59.3,21.3,-59.8,20,-58.2,17.3,-57.2,16.3,-43,23.1,-40.3,21.5,-40.9,20.2,-39.5,20.3,-38.9,22,-41.2,17.2,-40.3,18.2,-39.5,18.9,-38.6,19.4,
-65,16.1,-64.1,15.3,-65.4,14.5,-64.3,13.7,-62.7,14.2,-66.6,11.6,-65.9,11.4,-67.7,9.4,-62.7,10.7,-66.1,8.5,-64.8,7.3,-63,7,-58.2,12.9,-57.2,13.3,-57.3,12.2,-55.2,14.8,-53.4,14,-54.5,13.4,-53.4,13,-54.3,11.7,-53.9,10.4,-59.6,9.9,-57.7,9,-57,9.8,-55.5,8.3,-52.1,7.8,-52.9,7.2,-51.3,7.2,-75.9,5,-70,5.9,-68.2,6.5,-67.2,6.2,-69.7,5.5,-68.6,4.7,-65.9,5.2,-69.7,3.6,-68.1,3.6,-69.3,2.3,-71.1,1.6,-69.7,1.6,-67.5,1.3,-66.8,1.6,-70.9,0,-67.9,-.8,-69.5,-1.3,-71.3,-2.4,-69.3,-3.6,-71.9,-4.2,-70.4,-5.5,-68.6,-5.2,-67.3,-5.2,-67.9,-3.7,-71.2,-7.8,-69.3,-8.3,-68.6,-8.3,-67.5,-9.4,-63.6,7.5,-61.8,6.2,-60.7,6,-59.1,6,-61.1,7.5,-56.6,5.5,-55.7,6.5,-57.2,4.2,-63.8,4.4,-61.8,3.4,-60.4,3.9,-58.6,3.9,-56.3,2.8,-55,2.9,-57.3,2.6,-61.4,1.3,-62.9,.6,-58.4,.6,-57.2,.3,-55,-.5,-54.7,.7,-56.4,-1,-55.4,-2,-64.7,.3,-65.7,-1.6,-63.6,-1,-65,-2.9,-66.6,-2.9,-60.7,-1.3,-61.4,-2.6,-59,-1.1,-63.2,-4.6,-59.3,-4.2,-58.4,-4.7,-63,-6.7,-64.9,-7.8,-62.9,-9,-64.5,-9.8,-66.1,-5.9,-47.5,1,-45,-1.1,-49.8,-2.4,-50.4,-3.6,-46.6,-3.9,-46.3,-4.2,-48.6,-7.6,-44.3,-8.3,-46.6,-10.6,-44.5,-14,-44.3,-22.1,-66.1,-11.9,-62,-12,-64.8,-13,-67,-13.5,-66.1,-14,-62.9,-13,-65,-14.3,-66.8,-15.8,-67.9,-18.4,-65.2,-16,-66.6,-19.2,-63.2,-22.1,-64.5,-24.8,-63.2,-24.4,-62.9,-24.4,-62,-26,-63.8,-27.5,-63.9,-28.5,-62.3,-29,-65.2,-30,-64.3,-30.1,-60.4,-29,-59.5,-29.6,-61.4,-29.3,-61.8,-31.3,-59.5,-32.1,-57,-32.3,-63.2,-32.9,-61.8,-33.2,-64,-33.9,-63,-34.4,-62,-34,-60.1,-33.9,-58,-31.6,-46.2,-28.2,-46.2,-32.9,-40.3,-33.2,-39.8,-31.1,-50.9,-34.4,-50.7,-35.2,-49.5,-36.2,-48.6,-35.8,-48.2,-36.8,-46.8,-38.1,-46.2,-39.4,
-54.3,35,-55,33.5,-53.5,33,-52.5,32.5,-54.5,31,-57,31.5,-59,30.5,-61,30,-62,29,-51,31,-49,32.5,-49.5,33,-47,33,-48.3,32.8,-50,31,-47.5,30,-46,29,-45,28.5,-43.5,29,-42.5,26,-41.5,24,-39.5,23.7,-40,22.2,-41,22.5,-63,27.5,-62,26,-63,24.5,-61.5,22.8,-63.5,22.3,-63.5,19,-61.8,21,-61.5,18.2,-64,16.5,-63,16.5,-66,15,-65,12.8,-64,12.5,-63.5,12,-66.8,10.5,-66.2,10,-64.5,10,-62,8.5,-59,12,-57.5,11,-55.5,11,-56,13.3,-54.7,14.5,-55,12.3,-55,10,-53,11.5,-53,9.7,-58.7,10.7,-56.3,9.7,-57,7.5,-58.5,8.3,-54.5,8.2,-70.5,5,-69,5.5,-69.5,4.5,-67,4.7,-66.7,3.3,-68,2.5,-69,.5,-70.3,.7,-68.5,.2,-67.5,-.3,-70,-2,-68.8,-2.5,-70,-4.5,-69,-4.5,-66.5,-7,-67,-7.8,-69.9,-7.5,-65.2,-5,-67,-6.5,-64,-5.5,-62,-5.5,-62.5,-8,-64,-8.5,-63.5,-3.3,-62.5,-3.5,-64.7,-1.3,-62.5,-.5,-62,5,-61,4.8,-59.5,4.8,-58.5,5.2,-57.5,5.5,-60,2.2,-59,2.5,-59.5,.8,-56,1,-56,-.2,-58,-.3,-57.5,-1.7,-60,-2.7,-59.3,-3,-62,1.8,-63.5,2,-55,1.5,-65,-11.5,-64,-12,-63.5,-13.5,-63,-14.3,-66.5,-16.7,-65.7,-15,-64.5,-15.7,-67,-15,-63,-26,-62.5,-27.5,-61,-27,-64.5,-27.7,-65,-28.7,-62,-30.5,-60.5,-30.5,-59,-31,-63,-31,-62.5,-32,-61,-33,-60.5,-32,-64.5,-32,-63.5,-30.5,-58,-30,-57,-31,-49.5,-37.5,-48,-38,-47.5,-37,-47,-40,-47.5,-39.5];
const orange=[-39.3,16.9,-39.3,15.3,-37.5,16.6,-36.8,17.7,-34.4,15.3,-35.5,15.8,-33.2,14,-32,14.3,-31.1,14.5,-62.3,-14.8,-61.8,-15.6,-59.3,-14.5,-57.2,-14.6,-55.2,-15.3,-54.7,-16,-59.6,-15.6,-58.2,-16.6,-54.7,-17.9,-65.6,-19.9,-62.9,-19.5,-64.8,-20.5,-56.4,-19.9,-56.3,-20.8,-54.7,-19.5,-55.5,-21.8,-60.9,-22.1,-59.9,-21.8,-57.7,-23.1,-59.5,-23.4,-61.8,-23.8,-53.6,-23.3,-54.8,-22.5,-53.6,-24.6,-54.7,-24.7,-51.2,-23.3,-55.7,-26.1,-50.7,-16.4,-51.1,-17.4,-48.2,-15.8,-48.9,-17.3,-46.2,-15.6,-46.4,-17.6,-43,-15.1,-40.9,-15.8,-39.8,-15.3,-41.1,-16.9,-44.3,-16.3,-50.7,-19.5,-47.5,-19.9,-48.9,-21.2,-50.4,-21.5,-45.7,-18.2,-45.4,-21.6,-47.9,-22.1,-45.7,-23.1,-48,-24.4,-47.9,-25.7,-46.1,-25.4,-46.4,-27,-46.4,-27.4,-54.6,-29,-56.4,-29.5,-55.2,-29.3,-57.5,-27.7,-57.2,-30.8,-55,-31.6,-55,-32.9,-54.1,-33.2,-55,-34.9,-53.4,-35,-60.4,-25.7,-59.3,-27.4,-53.6,-24.1,-54.3,-24.8,-30.7,-35.6,-29.3,-35.2,-31.2,-39.1,-28.7,-38.1,-28.9,-36.2,-33.4,-25,
-27.7,-27.4,-23.4,-24.4,-22.5,-26,-22.9,-25.1,-22.9,-29.8,-23.4,-30.6,-21.6,-31.4,-20,-31.8,-24.7,-32.8,-21.7,-33.7,-21.5,-35.4,-18.6,-35,-20.2,-36,-21.3,-36.8,-17.9,-36.5,-21.9,-38.8,-27.5,-34.9,-26.1,-34.7,-28.3,-35.8,-26.5,-36.5,-26.1,-37.8,-24.3,-39.4,-26.5,-41,-25.4,-40.4,-24.3,-42.7,-22.7,-43.6,-21.5,-43,-21.1,-45.1,-26.1,-45.8,-25.6,-45.9,-23.6,-47.4,-21.5,-47.7,-22.2,-48.5,-19.3,-49.3,-17.5,-37.1,-17.2,-39.2,-16.1,-38.8,-16.3,-42,-15,-42.3,-14.9,-43.6,-16.3,-44,-14.1,-45.6,-15,-47.4,-13,-47.9,-13.2,-49.2,-12.9,-50.8,-11.5,-50.1,-10.4,-52.3,-14.7,-53.2,-13.6,-53.2,-12.7,-52.6,
.3,-57.5,1.2,-57.3,-2.5,-61,1.6,-60.2,2.8,-60.6,3.7,-59.9,5.2,-59.6,6.2,-59.8,6.2,-58.3,8.4,-58,9.3,-57.6,10.4,-58.6,11.3,-60,12.5,-59.1,14.1,-57.6,12.3,-57.3,5.7,-54.5,5.2,-55.4,6.6,-56,8.2,-53.7,7.5,-52.4,8.4,-50.8,9.6,-51.1,11.6,-47.9,11.1,-49.2,12.9,-49.8,11.1,-51.5,12.5,-52.3,11.8,-54.1,13,-55.5,11.4,-55.4,15.4,-53.1,14.6,-50.8,15.7,-49.3,17.1,-50.5,18.4,-49.3,16.8,-49.2,19.6,-53.6,20.9,-54.6,22.2,-53.7,24.3,-53.1,26.1,-53.4,21.8,-50.6,22.9,-46.6,21.8,-46.2,24.7,-46.2,21.1,-47.9,22.3,-48.4,26.1,-48.4,24.1,-49.3,24.5,-51.5,21.4,-54.7,20.5,-56.7,18.8,-57.6,19.6,-57.8,21.1,-57,25.4,-56.2,22.9,-55.7,23.3,-55.4,
35.5,-47.4,36.2,-47.9,36.9,-47.2,35.8,-51.6,37.1,-50.6,38.5,-50.5,37.6,-52.4,38.9,-53.7,32.8,-55,33.5,-55.9,35.1,-55.4,34.7,-57.5,34.7,-58.8,34.4,-54.4,42.9,-45.6,42.9,-46.6,44.8,-43,45.1,-44.9,44,-46.9,43.7,-48.2,44.8,-49.5,46.4,-49,45.5,-48.2,48.7,-38,50.5,-38.8,49.6,-39.7,51,-40.7,48.3,-42,47.3,-43,50.1,-42.3,51,-43.3,51.9,-42.3,52.1,-45.3,52.6,-45,50.5,-45.3,49.6,-46.6,50.8,-47.2,49.2,-47.4,52.5,-48.2,
46.5,-15.5,48.2,-16.3,48,-17.7,51,-18.9,50.3,-20.2,51.2,-20.3,52.3,-19.7,56,-20.5,58.2,-19.5,57.8,-22,59,-21.8,59.2,-23,61.4,-19.2,63.2,-19.5,65.3,-19.2,66.4,-17.9,66.4,-16.4,64.1,-16,62.3,-16.6,63.7,-17.9,65.1,-15.6,66.7,-14,65.1,-11.1,65.3,-12.1,65.8,-12.9,64.1,-12.7,68.5,-10.9,65.1,-14,63.7,-15.6,56.6,10.9,46.4,6.5,47.1,5.9,45.1,4.6,44.6,4.2,46.2,5,49,6.8,49.9,7.5,51.4,7.5,49.8,6,51,5.7,52.4,6.7,48,6.6,
-21.5,8.8,-23.5,6.4,-21.3,5.4,-17.9,4.9,-19.5,4.2,-19.3,3.3,-18.4,2.9,-20.8,2.4,-19.5,2.3,-24.7,1.8,-23.4,1.6,-24.2,.3,-24.9,-.2,-24.9,-1.8,-22.7,-1.3,-20.4,-.2,-20,-1.3,-22.7,-3,-21.3,-3.4,-20.7,-2,-18.8,-2.3,-19.5,-4.1,-17.6,-4.2,-4.6,5.4,
-38.3,16,-37,15.8,-33.7,14.5,-61,-15,-60,-16.5,-58.5,-15,-58,-15.5,-56,-15,-56.5,-16,-57,-16,-55.5,-18.7,-63.5,-19,-64,-20,-61.5,-20.2,-55.5,-20.5,-55.5,-23,-57,-24,-59,-24.7,-60.5,-24.5,-58,-25.5,-61,-26.5,-59,-26.5,-57.7,-26.5,-52.3,-24,-52,-23,-49.5,-16.3,-49.8,-17.7,-47.3,-16.8,-47,-15.5,-45,-16,-44.8,-17,-42.5,-16,-47.5,-18.5,-46.7,-19,-49,-19.2,-50,-20.5,-47.5,-21,-46.5,-21,-45,-22.5,-47,-23.5,-45.5,-24.5,-47,-26,-58,-28.5,-56.5,-27.7,-54.5,-28,-56.5,-31,-56,-30,-55.7,-33.3,-54,-31.5,-53.5,-33.5,-54.5,-35.5,
-29,-37,-30,-36.5,-27,-38,-28,-37,-27,-35.2,-25,-35.5,-24.5,-37.5,-25.7,-38.8,-27.5,-39,-25,-41.5,-24,-41,-23.5,-44,-22,-44.5,-23,-42.5,-20.8,-44,-21.5,-46.3,-22.5,-46.5,-22.5,-31,-23,-32,-22.5,-33,-21.5,-32.3,-21,-30,-21,-34.5,-22.5,-34.5,-22,-36,-24,-34,-20.5,-33,-19.5,-34.8,-19,-36,-17,-35.5,-16.5,-37.8,-18.5,-37.5,-18,-38.5,-17,-40.5,-16,-41,-15.5,-40,-15,-41.5,-15.5,-45,-16,-43,-14.8,-46,-13.8,-47,-14,-48.5,-12,-49.5,-11.5,-51.5,-13,-51.7,-14,-52.3,-15.5,-53,-13,-44.5,
2,-58,.7,-58.8,-1.5,-60.5,-.5,-61.5,.5,-60,2,-61.2,3,-59,4.5,-58.5,4,-60,5,-57.5,7.5,-59,8,-59.5,9,-59,7.2,-57.2,6,-56.8,4,-58,8,-55,7.5,-54,7,-53,8,-51,9.5,-49.5,10.5,-49,11,-47,12,-49,12.5,-47.5,10,-52,9.5,-53.5,10.5,-55.5,10,-56.5,12.3,-51,12,-54.5,13.5,-52,13,-58,12,-58,13.5,-53.7,14.7,-52,15,-55,13.5,-48.5,14.5,-49.5,17.5,-49,16,-50.5,18.5,-50.5,20.5,-52.5,21,-53.5,22,-55.2,23.5,-53,24.8,-52.5,25.2,-53.5,25,-54.5,23,-46,22.5,-47.3,23.5,-47.5,23.5,-50.5,23.5,-51.5,22.5,-51.5,20.5,-53,25,-47,19.5,-55.5,20,-56,18.5,-56,22,-56,36,-49,36.5,-46.5,35.5,-50,36.5,-51,34,-56.5,33.5,-54.5,35,-53.5,38,-51,38.7,-54,43,-44.5,43,-47.5,44,-45,45,-47,46,-46.5,46.5,-48,44.5,-47.5,49,-37.5,50,-40,50.5,-41.5,51.2,-41.5,49,-43,49.5,-44,50.5,-44,51.5,-44,51,-46,52,-46.5,49.8,-45.5,48.8,-41,62.5,-18,64.3,-19,65,-18,63,-15,64.5,-14.7,66,-15.5,64,-11.5,64,-14.5,67,-17,-22,-.5,-21,-1,-19,3.7,-20,3,-23.8,-.5,-22.5,-2,-20.5,-3,-18.5,-3.5];
const red=[7.5,41.4,28.9,27.9,-.1,8.8,33.2,14.1,33.2,-6.7,49.8,-4.8,56.9,-7.6,40.1,-13.6,60.2,-14.5,63.8,-13.8,57.6,-18.1,59.5,-20.4,44.2,-18.9,43,-22.8,34.5,-23.3,58.3,-24.7,41.2,-26.9,51.2,-26.9,54.1,-27.5,-6.8,-11,1,-16.8,2.5,-18.7,9.5,-14.9,10.2,-17.3,19,-13.3,8.6,-21.9,15.9,-22.4,19.9,-20.6,19.8,-25,21.8,-24.8,-4.3,-25.7,8,-26.3,15.5,-27.4,22,-27.9,21.6,-30,9.6,-30.2,3,-28.3,6.1,-28.2,3.7,-31.6,-5.9,-30.5,4.3,-35.8,4.1,-37.1,4.6,-38.1,10.4,-43.9,14.5,-43.5,8.6,-52,7.5,-56,11.2,-57,10.2,-57.4,18.2,-50.8,24.7,-55.4,2.8,-56.4,3.9,-56.7,.5,-61.2,-.9,-60.6,-.2,-59.6,-1.6,-59.3,-3.2,-59.4,-6.1,-62.2,-7.5,-58,-7.7,-56.5,-9.9,-56.7,-6.8,-54,-8.8,-57,-10.1,-48,-8.8,-48,-12,-51.1,-13,-46.2,-13.7,-42.7,-15.9,-40.6,-15.7,-36.9,-17.2,-45.8,-22.6,-47.7,-24.7,-41.6,-26.7,-40,-27.4,-37.9,-24.9,-36,-23.6,-33.2,-23.1,-33.8,-21.8,-30,-26.8,-28.7,30.8,-54,33.5,-53.2,33.9,-52.3,34.7,-53.9,39,-52.7,29.4,-38.5,30.3,-36.5,44.8,-37.7,43.9,-40,47.1,-42.3,48.6,-45.3,46.4,-47.6,48.7,-34.4,50.7,-33.9,51.8,-35,53.5,-36,-63.4,18.5,-62.9,15,-65.4,13,-63.6,9.5,-55.9,9.3,-54.4,5.2,-64.7,3,-65.8,-6.3,-70.3,-7.2,-46,-.2,-49.3,-4.2,-49.1,-6,-45.5,-10.5,-46.7,-11.4,-45.9,-15.5,-63.7,-15,-62.3,-16.5,-65.3,-17.6,-64,-18.5,-60.2,-17.4,-55.4,-17.6,-60.4,-20.1,-37.8,-21.8,-37.2,-22.6,-60.8,-24.3,-58.6,-25.2,-59,-28.5,-64.1,-31.8,-52,-34.7,-49.6,-33.4,-46.1,-37.3,-50.4,-38.8,-50,-40.6];

const pairs=f=>{const o=[];for(let i=0;i+1<f.length;i+=2)o.push([f[i],f[i+1]]);return o;};
const FONT='DejaVu Sans';
const mk=(name,color,flat)=>({type:'scatter',name,data:pairs(flat),symbol:'circle',symbolSize:30,animation:false,progressive:0,silent:true,
  itemStyle:{color,opacity:0.7,borderColor:'#fff',borderWidth:1}});
const chart=echarts.init(document.getElementById('c'));
const mm=v=>String(v).replace('-','\u2212');
const axisCommon=(ticks,margin,labelPad)=>({type:'value',
  axisLine:{show:true,onZero:false,lineStyle:{color:'#000',width:3}},
  axisTick:{show:true,length:14,customValues:ticks,lineStyle:{color:'#000',width:3}},
  axisLabel:{customValues:ticks,formatter:mm,color:'#000',fontFamily:FONT,fontSize:51,margin,padding:labelPad},
  splitLine:{show:true,lineStyle:{color:'#ececec',width:3}},
  nameLocation:'middle',nameTextStyle:{fontFamily:FONT,fontStyle:'italic',fontSize:48,color:'#000'}});
const legendCommon={orient:'vertical',top:62,itemWidth:107,itemHeight:40,itemGap:25,icon:'rect',selectedMode:false,
  itemStyle:{opacity:1,borderWidth:0},textStyle:{fontFamily:FONT,fontSize:52,color:'#000',padding:[0,0,0,34]}};
chart.setOption({
  animation:false,backgroundColor:'#fff',
  grid:{left:243,top:37,right:-19,bottom:120,show:true,borderColor:'#000',borderWidth:3,containLabel:false,outerBoundsMode:'none'},
  xAxis:Object.assign(axisCommon(xTicks,24,0),{min:-84.47,max:77.13,name:'TSNE-1',nameGap:90}),
  yAxis:Object.assign(axisCommon(yTicks,30,[7,0,0,0]),{min:-71.77,max:73.13,name:'TSNE-2',nameGap:147}),
  legend:[
    Object.assign({},legendCommon,{left:1224,data:legendLeft,padding:[22,572,22,19],backgroundColor:'rgba(255,255,255,0.8)',borderColor:'#ccc',borderWidth:3,borderRadius:10}),
    Object.assign({},legendCommon,{left:2055,data:legendRight,padding:[22,0,22,0]})
  ],
  series:[
    mk(legendRight[0],'#2ca02c',green),
    mk(legendRight[2],'#9467bd',purple),
    mk(legendRight[1],'#7f7f7f',gray),
    mk(legendLeft[0],'#1f77b4',blue),
    mk(legendLeft[2],'#ff7f0e',orange),
    mk(legendLeft[1],'#d62728',red)
  ]
});
</script></body></html>
